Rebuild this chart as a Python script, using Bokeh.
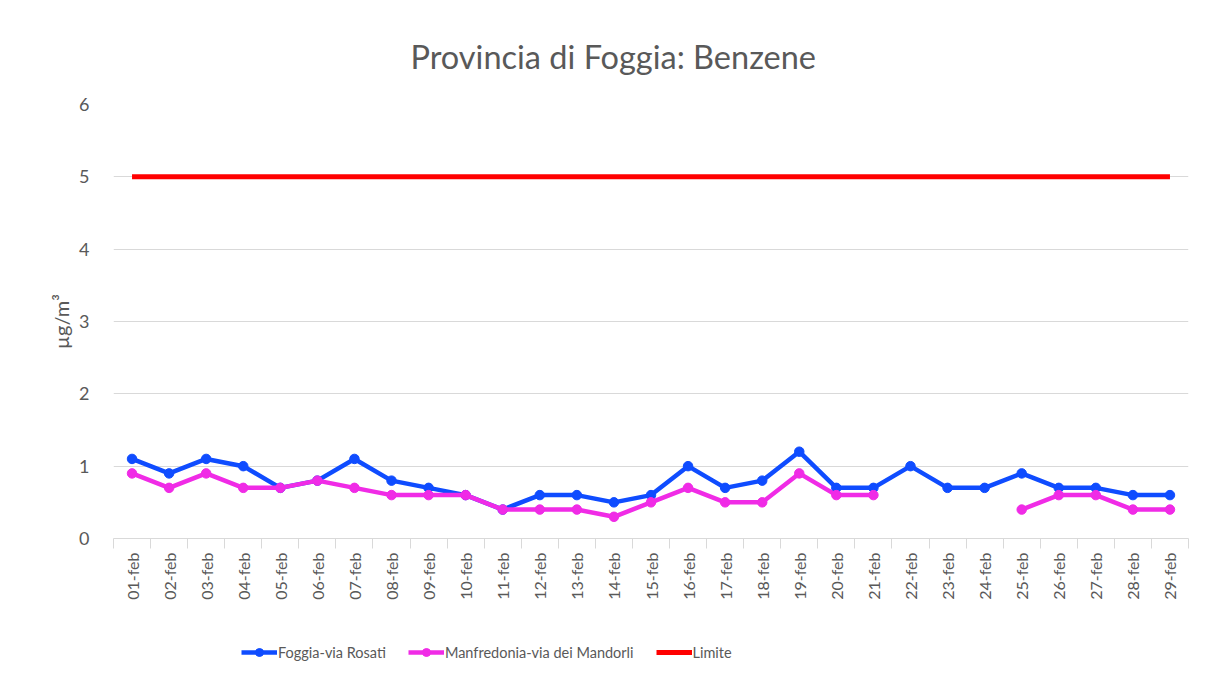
import math
from bokeh.plotting import figure
from bokeh.layouts import column
from bokeh.models import Range1d, FixedTicker, Legend, LegendItem
from bokeh.embed import file_html
from bokeh.resources import INLINE

days = ["01-feb", "02-feb", "03-feb", "04-feb", "05-feb", "06-feb", "07-feb", "08-feb",
        "09-feb", "10-feb", "11-feb", "12-feb", "13-feb", "14-feb", "15-feb", "16-feb",
        "17-feb", "18-feb", "19-feb", "20-feb", "21-feb", "22-feb", "23-feb", "24-feb",
        "25-feb", "26-feb", "27-feb", "28-feb", "29-feb"]
foggia = [1.1, 0.9, 1.1, 1.0, 0.7, 0.8, 1.1, 0.8, 0.7, 0.6, 0.4, 0.6, 0.6, 0.5, 0.6,
          1.0, 0.7, 0.8, 1.2, 0.7, 0.7, 1.0, 0.7, 0.7, 0.9, 0.7, 0.7, 0.6, 0.6]
manfredonia = [0.9, 0.7, 0.9, 0.7, 0.7, 0.8, 0.7, 0.6, 0.6, 0.6, 0.4, 0.4, 0.4, 0.3, 0.5,
               0.7, 0.5, 0.5, 0.9, 0.6, 0.6, None, None, None, 0.4, 0.6, 0.6, 0.4, 0.4]
limite = [5, 5, 5, 5, 5, 5, 5, 5, 5, 5, 5, 5, 5, 5, 5, 5, 5, 5, 5, 5, 5, 5, 5, 5, 5, 5, 5, 5, 5]
y_ticks = [0, 1, 2, 3, 4, 5, 6]
series_names = ["Foggia-via Rosati", "Manfredonia-via dei Mandorli", "Limite"]

FONT = "Lato"
GRAY = "#595959"
GRID = "#d9d9d9"
BLUE = "#0f4cff"
MAGENTA = "#f02be6"
RED = "#ff0000"

x = list(range(1, len(days) + 1))
man = [float("nan") if v is None else v for v in manfredonia]

p = figure(width=1200, height=640, output_backend="svg", toolbar_location=None,
           x_range=Range1d(0.5, len(days) + 0.5), y_range=Range1d(0, 6),
           min_border_left=113, min_border_right=12, min_border_top=104,
           min_border_bottom=102)
p.outline_line_color = None

p.title.text = "Provincia di Foggia: Benzene"
p.title.text_font = FONT
p.title.text_font_size = "32.5px"
p.title.text_font_style = "normal"
p.title.text_color = GRAY
p.title.align = "left"
p.title.offset = 297
p.title.standoff = 58

# axes
p.xaxis.ticker = FixedTicker(ticks=x, minor_ticks=[i + 0.5 for i in range(len(days) + 1)])
p.xaxis.major_label_overrides = {i: d for i, d in zip(x, days)}
p.xaxis.major_label_orientation = math.pi / 2
p.xaxis.major_tick_line_color = None
p.xaxis.minor_tick_line_color = GRID
p.xaxis.minor_tick_in = 0
p.xaxis.minor_tick_out = 10
p.xaxis.axis_line_color = GRID
p.xaxis.major_label_text_font = FONT
p.xaxis.major_label_text_font_size = "16px"
p.xaxis.major_label_text_color = GRAY
p.xaxis.major_label_standoff = 4

p.yaxis.ticker = FixedTicker(ticks=y_ticks)
p.yaxis.axis_line_color = None
p.yaxis.major_tick_line_color = None
p.yaxis.minor_tick_line_color = None
p.yaxis.major_label_text_font = FONT
p.yaxis.major_label_text_font_size = "18px"
p.yaxis.major_label_text_color = GRAY
p.yaxis.major_label_standoff = 18
p.yaxis.axis_label = "µg/m³"
p.yaxis.axis_label_text_font = FONT
p.yaxis.axis_label_text_font_size = "20px"
p.yaxis.axis_label_text_font_style = "normal"
p.yaxis.axis_label_text_color = GRAY
p.yaxis.axis_label_standoff = 3

p.xgrid.grid_line_color = None
p.ygrid.grid_line_color = GRID
p.ygrid.ticker = FixedTicker(ticks=y_ticks)

p.line(x, foggia, line_color=BLUE, line_width=4.5)
p.scatter(x, foggia, size=9.5, fill_color=BLUE, line_color=BLUE)
p.line(x, man, line_color=MAGENTA, line_width=4.5)
p.scatter(x, man, size=9.5, fill_color=MAGENTA, line_color=MAGENTA)
p.line(x, limite, line_color=RED, line_width=5)

# legend strip below the chart (same styles as the series; no visible data)
nan = [float("nan")]
lg = figure(width=1200, height=38, output_backend="svg", toolbar_location=None,
            x_axis_location=None, y_axis_location=None, min_border=0,
            x_range=Range1d(0, 1), y_range=Range1d(0, 1))
lg.outline_line_color = None
lg.xgrid.grid_line_color = None
lg.ygrid.grid_line_color = None
a1 = lg.line(nan, nan, line_color=BLUE, line_width=4.5)
b1 = lg.scatter(nan, nan, size=9, fill_color=BLUE, line_color=BLUE)
a2 = lg.line(nan, nan, line_color=MAGENTA, line_width=4.5)
b2 = lg.scatter(nan, nan, size=9, fill_color=MAGENTA, line_color=MAGENTA)
a3 = lg.line(nan, nan, line_color=RED, line_width=5)

legend = Legend(items=[LegendItem(label=series_names[0], renderers=[a1, b1]),
                       LegendItem(label=series_names[1], renderers=[a2, b2]),
                       LegendItem(label=series_names[2], renderers=[a3])],
                orientation="horizontal", location=(128, 16))
legend.label_text_font = FONT
legend.label_text_font_size = "14.5px"
legend.label_text_color = GRAY
legend.border_line_color = None
legend.background_fill_alpha = 0
legend.glyph_width = 36
legend.label_standoff = 1
legend.spacing = 22
legend.padding = 0
legend.margin = 0
lg.add_layout(legend, "center")

layout = column(p, lg, spacing=0)
open("out.html", "w").write(file_html(layout, INLINE))
